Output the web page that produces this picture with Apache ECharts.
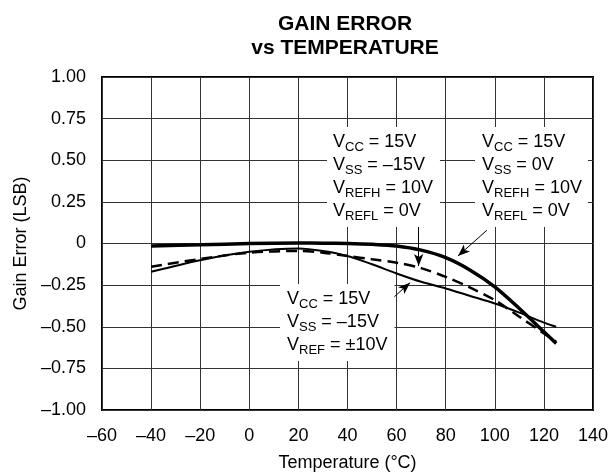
<!DOCTYPE html>
<html>
<head>
<meta charset="utf-8">
<script src="https://cdn.jsdelivr.net/npm/echarts@6/dist/echarts.min.js"></script>
<style>
  html, body { margin: 0; padding: 0; background: #fff; }
  #main { width: 612px; height: 473px; }
</style>
</head>
<body>
<div id="main"></div>
<script>
// temperatures (°C) and gain error (LSB)
var temps = [-40, -20, 0, 20, 30, 40, 50, 60, 70, 80, 90, 100, 110, 120, 125];
// VCC=15V, VSS=0V, VREFH=10V, VREFL=0V  (thick solid)
var gainSingle = [-0.015, -0.008, 0.0, 0.003, 0.002, 0.0, -0.005, -0.015, -0.04, -0.085, -0.16, -0.26, -0.39, -0.53, -0.60];
// VCC=15V, VSS=-15V, VREFH=10V, VREFL=0V (dashed)
var gainDualUni = [-0.14, -0.093, -0.055, -0.045, -0.055, -0.075, -0.095, -0.115, -0.148, -0.20, -0.265, -0.34, -0.44, -0.54, -0.59];
// VCC=15V, VSS=-15V, VREF=±10V (thin solid)
var gainDualBip = [-0.17, -0.10, -0.05, -0.03, -0.045, -0.075, -0.125, -0.18, -0.23, -0.27, -0.315, -0.36, -0.415, -0.475, -0.50];

var xTickLabels = {'-60': '–60', '-40': '–40', '-20': '–20', '0': '0', '20': '20', '40': '40', '60': '60', '80': '80', '100': '100', '120': '120', '140': '140'};
var yTickLabels = {'1': '1.00', '0.75': '0.75', '0.5': '0.50', '0.25': '0.25', '0': '0', '-0.25': '–0.25', '-0.5': '–0.50', '-0.75': '–0.75', '-1': '–1.00'};

// arrows from the notes to the curves, in data units [start, end]
var arrowDualUni = [[69, 0.10], [69, -0.135]];
var arrowSingle = [[96.8, 0.08], [85, -0.075]];
var arrowDualBip = [[54, -0.387], [65.5, -0.235]];

var FONT = '"Liberation Sans", Arial, Helvetica, sans-serif';

function zip(xs, ys) {
    return xs.map(function (x, i) { return [x, ys[i]]; });
}
function arrow(a) {
    return [{coord: a[0], symbol: 'none'}, {coord: a[1], symbol: 'arrow'}];
}

var richNote = {
    v: {fontSize: 18, lineHeight: 23, fontFamily: FONT, color: '#000'},
    s: {fontSize: 13, lineHeight: 9, verticalAlign: 'bottom', fontFamily: FONT, color: '#000'}
};

var chart = echarts.init(document.getElementById('main'), null, {renderer: 'canvas'});

var option = {
    animation: false,
    backgroundColor: '#fff',
    title: {
        text: 'GAIN ERROR\nvs TEMPERATURE',
        left: 340,
        top: 7,
        textAlign: 'center',
        textStyle: {fontFamily: FONT, fontSize: 21, fontWeight: 'bold', color: '#000', lineHeight: 24}
    },
    grid: {
        left: 102, right: 19, top: 77, bottom: 63,
        containLabel: false,
        outerBoundsMode: 'none',
        show: true,
        borderColor: '#000',
        borderWidth: 2
    },
    xAxis: {
        type: 'value',
        min: -60, max: 140, interval: 20,
        name: 'Temperature (°C)',
        nameLocation: 'middle',
        nameGap: 44,
        nameTextStyle: {fontFamily: FONT, fontSize: 18, color: '#000'},
        axisLine: {show: false},
        axisTick: {show: false},
        axisLabel: {
            margin: 17,
            fontFamily: FONT, fontSize: 18, color: '#000',
            formatter: function (v) { return xTickLabels[String(v)]; }
        },
        splitLine: {show: true, lineStyle: {color: '#333', width: 1}}
    },
    yAxis: {
        type: 'value',
        min: -1, max: 1, interval: 0.25,
        name: 'Gain Error (LSB)',
        nameLocation: 'middle',
        nameGap: 71,
        nameTextStyle: {fontFamily: FONT, fontSize: 18, color: '#000'},
        axisLine: {show: false},
        axisTick: {show: false},
        axisLabel: {
            margin: 16,
            fontFamily: FONT, fontSize: 18, color: '#000',
            formatter: function (v) { return yTickLabels[String(v)]; }
        },
        splitLine: {show: true, lineStyle: {color: '#333', width: 1}}
    },
    series: [
        {
            name: 'VSS=0V',
            type: 'line',
            data: zip(temps, gainSingle),
            smooth: 0.3,
            showSymbol: false,
            lineStyle: {color: '#000', width: 3.5},
            z: 4,
            markLine: {
                silent: true,
                symbolSize: [7, 12],
                label: {show: false},
                lineStyle: {color: '#000', width: 1, type: 'solid'},
                emphasis: {disabled: true},
                data: [arrow(arrowSingle)]
            }
        },
        {
            name: 'VSS=-15V unipolar',
            type: 'line',
            data: zip(temps, gainDualUni),
            smooth: 0.3,
            showSymbol: false,
            lineStyle: {color: '#000', width: 2.5, type: [11, 6]},
            z: 3,
            markLine: {
                silent: true,
                symbolSize: [7, 12],
                label: {show: false},
                lineStyle: {color: '#000', width: 1, type: 'solid'},
                emphasis: {disabled: true},
                data: [arrow(arrowDualUni)]
            }
        },
        {
            name: 'VSS=-15V bipolar',
            type: 'line',
            data: zip(temps, gainDualBip),
            smooth: 0.3,
            showSymbol: false,
            lineStyle: {color: '#000', width: 2},
            z: 3,
            markLine: {
                silent: true,
                symbolSize: [7, 12],
                label: {show: false},
                lineStyle: {color: '#000', width: 1, type: 'solid'},
                emphasis: {disabled: true},
                data: [arrow(arrowDualBip)]
            }
        }
    ],
    graphic: [
        {
            type: 'text', left: 327, top: 127, z: 10,
            style: {
                text: '{v|V}{s|CC}{v| = 15V}\n{v|V}{s|SS}{v| = –15V}\n{v|V}{s|REFH}{v| = 10V}\n{v|V}{s|REFL}{v| = 0V}',
                rich: richNote, backgroundColor: '#fff', padding: [4, 7, 4, 6]
            }
        },
        {
            type: 'text', left: 475, top: 127, z: 10,
            style: {
                text: '{v|V}{s|CC}{v| = 15V}\n{v|V}{s|SS}{v| = 0V}\n{v|V}{s|REFH}{v| = 10V}\n{v|V}{s|REFL}{v| = 0V}',
                rich: richNote, backgroundColor: '#fff', padding: [4, 6, 4, 7]
            }
        },
        {
            type: 'text', left: 280, top: 284, z: 10,
            style: {
                text: '{v|V}{s|CC}{v| = 15V}\n{v|V}{s|SS}{v| = –15V}\n{v|V}{s|REF}{v| = ±10V}',
                rich: richNote, backgroundColor: '#fff', padding: [4, 7, 4, 7]
            }
        }
    ]
};

chart.setOption(option);
</script>
</body>
</html>
